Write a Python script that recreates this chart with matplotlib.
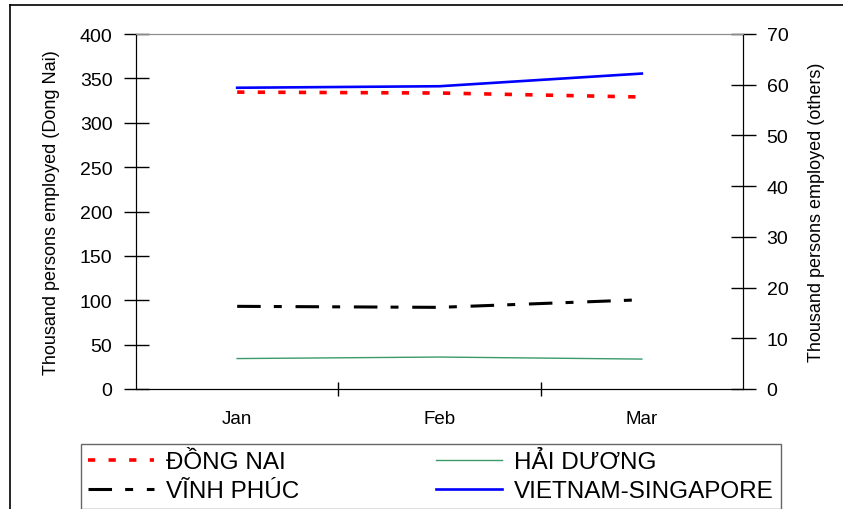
import matplotlib
matplotlib.use("Agg")
import matplotlib.pyplot as plt
from matplotlib.lines import Line2D

plt.rcParams["font.family"] = ["Liberation Sans", "DejaVu Sans"]

# ------------------------------------------------------------------ data
months = ["Jan", "Feb", "Mar"]
dong_nai = [334.5, 333.5, 329.0]          # left axis
vinh_phuc = [16.3, 16.1, 17.6]            # right axis
hai_duong = [6.0, 6.3, 5.9]               # right axis
vn_singapore = [59.4, 59.7, 62.2]         # right axis

left_ticks = [0, 50, 100, 150, 200, 250, 300, 350, 400]
right_ticks = [0, 10, 20, 30, 40, 50, 60, 70]

W, H = 843, 510
fig = plt.figure(figsize=(W / 100, H / 100), dpi=100)
ax = fig.add_axes([136 / W, 1 - 390 / H, (743 - 136) / W, (390 - 35) / H])
ax2 = ax.twinx()

x = list(range(len(months)))
l_dn, = ax.plot(x, dong_nai, color="#ff0000", lw=2.6, linestyle=(0, (2, 3.7)),
                dash_capstyle="butt")
l_vp, = ax2.plot(x, vinh_phuc, color="black", lw=2.2,
                 linestyle=(0, (7.7, 4.3, 2.6, 4.5)), dash_capstyle="butt")
l_hd, = ax2.plot(x, hai_duong, color="#3a9a6a", lw=1.0)
l_vs, = ax2.plot(x, vn_singapore, color="#0000ff", lw=1.9)

ax.set_xlim(-0.5, len(months) - 0.5)
ax.set_ylim(0, 400)
ax2.set_ylim(0, 70)
ax.set_yticks(left_ticks)
ax2.set_yticks(right_ticks)

# category boundaries as ticks, labels centred in categories
ax.set_xticks([i + 0.5 for i in x[:-1]])
ax.set_xticklabels([])
ax.set_xticks(x, minor=True)
ax.set_xticklabels(months, minor=True)
ax.tick_params(axis="x", which="major", direction="inout", length=10, width=1)
ax.tick_params(axis="x", which="minor", length=0, pad=15, labelsize=13.5)
ax.tick_params(axis="y", direction="inout", length=18, width=1, pad=8, labelsize=14)
ax2.tick_params(axis="y", direction="inout", length=18, width=1, pad=8, labelsize=14)

for a in (ax, ax2):
    a.spines["top"].set_color("#8c8c8c")
    for s in ("left", "right", "bottom"):
        a.spines[s].set_color("black")

ax.set_ylabel("Thousand persons employed (Dong Nai)", fontsize=13, labelpad=14)
ax2.set_ylabel("Thousand persons employed (others)", fontsize=13, labelpad=14)

# legend box below the plot
fs = 17.5
em = fs * 100 / 72
fig.legend([l_dn, l_vp, l_hd, l_vs],
           ["ĐỒNG NAI", "VĨNH PHÚC", "HẢI DƯƠNG", "VIETNAM-SINGAPORE"],
           loc="upper left", bbox_to_anchor=(81 / W, 1 - 445 / H),
           ncol=2, fontsize=fs, frameon=True, fancybox=False,
           edgecolor="#666666", framealpha=1, handlelength=66 / em,
           borderpad=0.3, labelspacing=0.28, handletextpad=12 / em,
           columnspacing=5.6, borderaxespad=0)

# outer frame (top and left edges visible)
fig.add_artist(Line2D([10 / W, 1], [1 - 6 / H, 1 - 6 / H], color="black", lw=1.2))
fig.add_artist(Line2D([10 / W, 10 / W], [0, 1 - 6 / H], color="black", lw=1.2))

fig.savefig("out.png", dpi=100)
